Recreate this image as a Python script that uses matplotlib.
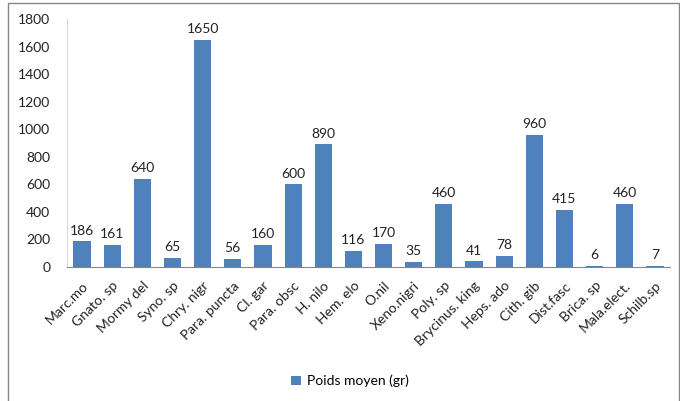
import matplotlib.pyplot as plt
import numpy as np
from matplotlib.patches import Rectangle

plt.rcParams['font.family'] = ['Lato', 'DejaVu Sans']

especes = ['Marc.mo', 'Gnato. sp', 'Mormy del', 'Syno. sp', 'Chry. nigr', 'Para. puncta',
           'Cl. gar', 'Para. obsc', 'H. nilo', 'Hem. elo', 'O.nil', 'Xeno.nigri', 'Poly. sp',
           'Brycinus. king', 'Heps. ado', 'Cith. gib', 'Dist.fasc', 'Brica. sp', 'Mala.elect.',
           'Schilb.sp']
poids = [186, 161, 640, 65, 1650, 56, 160, 600, 890, 116, 170, 35, 460, 41, 78, 960,
         415, 6, 460, 7]

fig = plt.figure(figsize=(6.8, 4.01), dpi=100)
# cadre autour du graphique
fig.patches.append(Rectangle((8/680, -0.05), 671/680, 1.05 - 3/401, transform=fig.transFigure,
                             fill=False, edgecolor='#868686', linewidth=1.0))

ax = fig.add_axes([67/680, 1 - 267/401, 603/680, 248/401])
x = np.arange(len(especes))
bars = ax.bar(x, poids, width=0.57, color='#4F81BD', label='Poids moyen (gr)')
for xi, v in zip(x, poids):
    ax.text(xi, v + 35, str(v), ha='center', va='bottom', fontsize=10, color='#222222')

ax.set_xlim(-0.5, len(especes) - 0.5)
ax.set_ylim(0, 1800)
ax.set_yticks(range(0, 1801, 200))
ax.set_xticks(x)
ax.set_xticklabels(especes, rotation=45, ha='right', rotation_mode='anchor', fontsize=10)
ax.tick_params(axis='both', length=0, labelsize=10, colors='#222222')
ax.tick_params(axis='y', pad=12)
ax.tick_params(axis='x', pad=9)
for s in ['top', 'right']:
    ax.spines[s].set_visible(False)
ax.spines['left'].set_color('#D9D9D9')
ax.spines['bottom'].set_color('#868686')

fig.legend(handles=[bars], labels=['Poids moyen (gr)'], loc='center',
           bbox_to_anchor=(350/680, 1 - 381/401), frameon=False, fontsize=10,
           handlelength=0.7, handleheight=0.7, handletextpad=0.4)

fig.savefig('out.png', dpi=100)
